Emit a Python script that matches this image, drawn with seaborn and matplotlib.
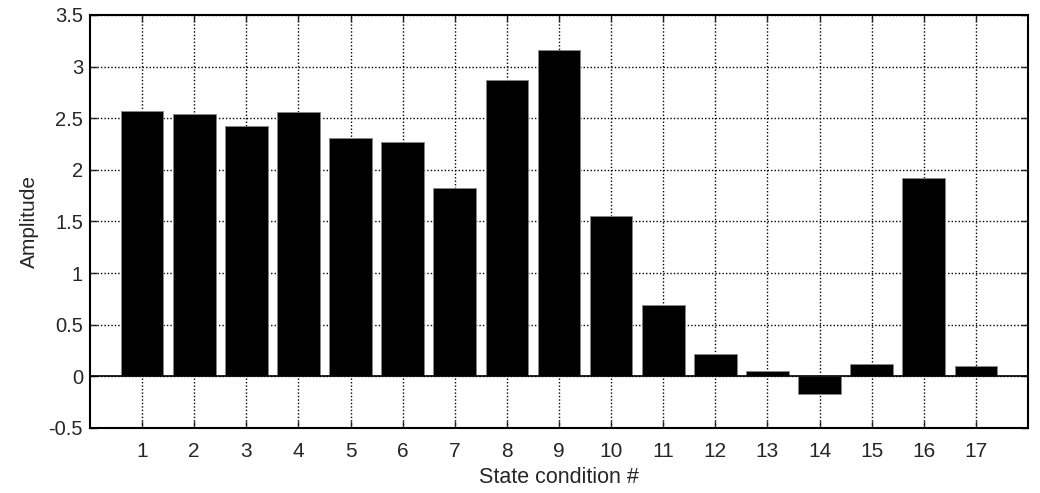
import pandas as pd
import seaborn as sns
import matplotlib.pyplot as plt

conditions = list(range(1, 18))
amplitude = [2.57, 2.54, 2.42, 2.56, 2.31, 2.27, 1.82, 2.87, 3.16, 1.55,
             0.69, 0.22, 0.05, -0.17, 0.12, 1.92, 0.10]
yticks = [-0.5, 0, 0.5, 1, 1.5, 2, 2.5, 3, 3.5]
ytick_labels = ['-0.5', '0', '0.5', '1', '1.5', '2', '2.5', '3', '3.5']

df = pd.DataFrame({'cond': conditions, 'amp': amplitude})

sns.set_style('white')
plt.rcParams['font.family'] = ['Liberation Sans', 'DejaVu Sans']

fig = plt.figure(figsize=(10.4, 4.93), dpi=100)
ax = fig.add_axes([0.0865, 0.132, 0.902, 0.8376])
sns.barplot(data=df, x='cond', y='amp', native_scale=True, width=0.82,
            color='black', edgecolor='#888888', linewidth=0.6, saturation=1,
            ax=ax, zorder=3)
ax.axhline(0, color='black', lw=1.2, zorder=4)

ax.set_xlim(0, 18)
ax.set_ylim(-0.5, 3.5)
ax.set_xticks(conditions)
ax.set_xticklabels([str(c) for c in conditions])
ax.set_yticks(yticks)
ax.set_yticklabels(ytick_labels)
ax.grid(True, color='black', linestyle=(0, (1, 1.5)), linewidth=1.0, zorder=0)
ax.set_axisbelow(True)
ax.tick_params(direction='in', length=5, width=1,
               top=True, right=True, bottom=True, left=True)
ax.tick_params(axis='x', pad=10, labelsize=15)
ax.tick_params(axis='y', pad=5, labelsize=14.5)
for s in ax.spines.values():
    s.set_visible(True)
    s.set_color('black')
    s.set_linewidth(1.5)
ax.set_xlabel('State condition #', fontsize=15.5, labelpad=4.5)
ax.set_ylabel('Amplitude', fontsize=15, labelpad=7)

plt.savefig('out.png', dpi=100)
